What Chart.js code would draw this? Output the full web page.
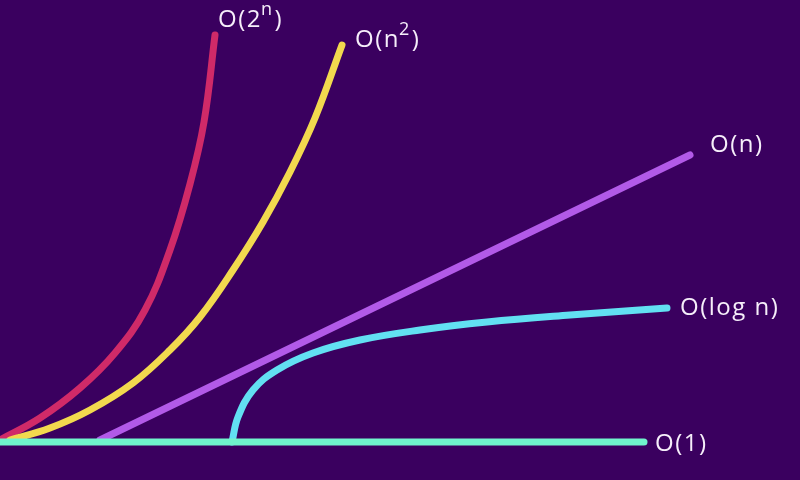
<!DOCTYPE html>
<html lang="en">
  <head>
    <meta charset="UTF-8" />
    <title>Big O</title>
    <style>
      body { margin: 0; background: #3a005f; }
      .container { width: 800px; height: 480px; position: relative; }
    </style>
  </head>
  <body>
    <div class="container">
      <canvas id="myChart"></canvas>
    </div>

    <script src="https://cdn.jsdelivr.net/npm/chart.js"></script>

    <script>
      // curve labels, "^" marks a superscript
      const labels = ["O(1)", "O(log n)", "O(n)", "O(n^2)", "O(2^n)"];
      const colors = ["#70f4cc", "#62e0f2", "#b25ae8", "#f2d94e", "#d02a68"];

      // values (x: input size, y: cost)
      const constX = [0, 644];
      const constY = [38, 38];
      const logX = [232, 238, 253, 277, 313, 360, 420, 487, 570, 667];
      const logY = [38, 63, 90, 110, 127, 140, 150, 158, 165, 172];
      const linX = [100, 690];
      const linY = [40, 325];
      const quadX = [10, 50, 90, 133, 170, 200, 233, 263, 290, 315, 342];
      const quadY = [40, 52, 70, 97, 130, 163, 210, 258, 308, 362, 435];
      const expX = [0, 40, 80, 115, 145, 170, 190, 204, 215];
      const expY = [40, 62, 92, 127, 170, 230, 296, 358, 445];

      const series = [
        [constX, constY],
        [logX, logY],
        [linX, linY],
        [quadX, quadY],
        [expX, expY],
      ];
      // where the label sits relative to the curve end
      const labelOffset = [[11, 2], [13, 0], [20, -10], [13, -5], [3, -15]];

      const ctx = document.getElementById("myChart").getContext("2d");

      const curveLabels = {
        id: "curveLabels",
        afterDatasetsDraw(chart) {
          const { ctx } = chart;
          ctx.save();
          ctx.fillStyle = "#f6eefa";
          ctx.textBaseline = "middle";
          ctx.textAlign = "left";
          ctx.letterSpacing = "1.5px";
          chart.data.datasets.forEach((ds, i) => {
            const pts = chart.getDatasetMeta(i).data;
            const last = pts[pts.length - 1];
            let x = last.x + labelOffset[i][0];
            const y = last.y + labelOffset[i][1];
            const parts = labels[i].split("^");
            let rest = "";
            let sup = "";
            if (parts.length > 1) {
              sup = parts[1].slice(0, 1);
              rest = parts[1].slice(1);
            }
            ctx.font = "500 24px 'Open Sans'";
            ctx.fillText(parts[0], x, y);
            x += ctx.measureText(parts[0]).width;
            if (sup) {
              ctx.font = "500 18px 'Open Sans'";
              ctx.fillText(sup, x - 1, y - 10);
              x += ctx.measureText(sup).width;
              ctx.font = "500 24px 'Open Sans'";
              ctx.fillText(rest, x, y);
            }
          });
          ctx.restore();
        },
      };

      new Chart(ctx, {
        type: "line",
        data: {
          datasets: series.map((s, i) => ({
            label: labels[i],
            data: s[0].map((x, j) => ({ x: x, y: s[1][j] })),
            borderColor: colors[i],
            borderWidth: 7,
            borderCapStyle: "round",
            borderJoinStyle: "round",
            tension: 0.4,
            pointRadius: 0,
            fill: false,
          })),
        },
        options: {
          responsive: true,
          maintainAspectRatio: false,
          animation: false,
          layout: { padding: 0 },
          scales: {
            x: { type: "linear", min: 0, max: 800, display: false },
            y: { type: "linear", min: 0, max: 480, display: false },
          },
          plugins: {
            legend: { display: false },
            tooltip: { enabled: false },
          },
        },
        plugins: [curveLabels],
      });
    </script>
  </body>
</html>
